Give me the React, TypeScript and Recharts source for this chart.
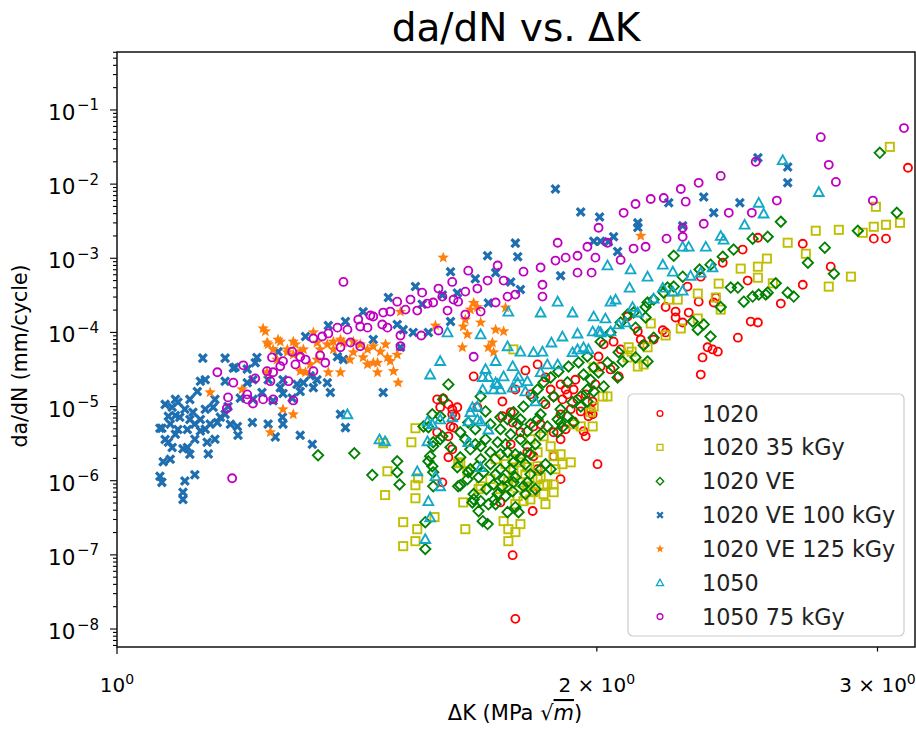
import React from "react";
import { ScatterChart, Scatter, XAxis, YAxis } from "recharts";

// [ΔK (MPa√m), da/dN (mm/cycle)]
const s1020: [number, number][] = [
  [1.588, 1.25e-5], [1.595, 9.8e-6], [1.602, 1.29e-5], [1.614, 1.07e-5], [1.623, 9.2e-6], [1.635, 9.8e-6],
  [1.631, 7.4e-6], [1.623, 7.85e-6], [1.626, 5.2e-6], [1.619, 5.4e-6], [1.588, 4.5e-6], [1.614, 3.97e-6],
  [1.623, 2.65e-6], [1.614, 2.07e-6], [1.6, 9.5e-7], [1.674, 2.55e-5], [1.683, 9.8e-6], [1.745, 1.17e-5],
  [1.778, 1.7e-5], [1.804, 3.07e-5], [1.836, 3.7e-5], [1.857, 2.47e-5], [1.745, 7.4e-6], [1.766, 8.4e-6],
  [1.771, 6.1e-6], [1.791, 4.5e-6], [1.825, 5.4e-6], [1.898, 1.99e-5], [1.912, 1.7e-5], [1.917, 1.46e-5],
  [1.934, 1.7e-5], [1.879, 1.37e-5], [1.903, 1.25e-5], [1.945, 1.25e-5], [1.926, 9.2e-6], [1.954, 8.6e-6],
  [1.898, 7.85e-6], [1.976, 7.4e-6], [1.982, 9.2e-6], [1.934, 6.3e-6], [1.962, 4.64e-6], [1.968, 3.97e-6],
  [1.879, 4.5e-6], [1.898, 3.62e-6], [1.879, 2.14e-6], [1.809, 2.42e-6], [1.825, 2.14e-6], [1.836, 1.43e-6],
  [1.823, 7.0e-7], [1.823, 3.9e-7], [1.74, 5.1e-7], [1.898, 1.05e-6], [1.771, 9.9e-8], [1.778, 1.37e-8],
  [2.005, 4.74e-5], [2.011, 3.47e-5], [2.049, 7.5e-5], [2.07, 5.9e-5], [2.04, 3.17e-5], [2.064, 2.55e-5],
  [1.988, 1.17e-5], [1.988, 7.85e-6], [2.002, 1.67e-6], [2.02, 6.9e-5], [2.091, 1.64e-4], [2.122, 1.03e-4],
  [2.131, 8.0e-5], [2.14, 6.9e-5], [2.171, 8.0e-5], [2.2, 1.07e-4], [2.209, 2.2e-4], [2.209, 1.0e-4],
  [2.241, 1.91e-4], [2.241, 1.59e-4], [2.264, 1.36e-4], [2.28, 4.15e-4], [2.284, 1.85e-4], [2.317, 2.6e-4],
  [2.324, 2.7e-5], [2.33, 4.6e-5], [2.347, 6.3e-5], [2.364, 5.9e-5], [2.382, 5.5e-5], [2.324, 5.65e-4],
  [2.368, 2.53e-4], [2.375, 2.95e-4], [2.399, 8.7e-4], [2.452, 8.5e-5], [2.469, 1.31e-3], [2.487, 5.0e-4],
  [2.498, 1.4e-4], [2.524, 1.36e-4], [2.524, 1.89e-3], [2.609, 2.45e-4], [2.693, 1.57e-3], [2.693, 4.4e-4],
  [2.804, 7.7e-4], [2.984, 1.84e-3], [3.037, 1.84e-3], [3.135, 1.66e-2],
  [1.817, 1.46e-5], [1.857, 1.07e-5], [1.871, 1.7e-5], [1.939, 2.3e-5], [1.968, 1.46e-5], [1.996, 1.99e-5],
  [1.844, 5.76e-6], [1.912, 4.94e-6], [1.766, 3.1e-6],
];

const s1020_35kGy: [number, number][] = [
  [1.469, 3.2e-6], [1.478, 1.34e-6], [1.473, 6.4e-7], [1.512, 2.76e-7], [1.512, 1.31e-7], [1.53, 3.3e-6],
  [1.539, 5.1e-6], [1.539, 8.7e-7], [1.539, 5.8e-7], [1.539, 1.53e-7], [1.543, 2.22e-7], [1.545, 1.08e-6],
  [1.582, 3.23e-7], [1.637, 1.72e-6], [1.642, 1.77e-6], [1.649, 5.1e-7], [1.654, 2.22e-7], [1.659, 1.34e-6],
  [1.686, 7.7e-7], [1.691, 8.4e-7], [1.715, 1.05e-6], [1.748, 2.85e-7], [1.758, 8.4e-7], [1.76, 9.8e-7],
  [1.76, 2.22e-7], [1.76, 1.53e-7], [1.773, 1.95e-6], [1.773, 1.43e-6], [1.773, 1.15e-6], [1.778, 2.03e-7],
  [1.784, 6.2e-7], [1.791, 1.77e-6], [1.791, 9.5e-7], [1.791, 2.6e-7], [1.799, 5.3e-7], [1.809, 1.52e-6],
  [1.809, 8.2e-7], [1.817, 3.62e-6], [1.817, 8.4e-7], [1.825, 7.0e-7], [1.836, 2.42e-6], [1.836, 1.57e-6],
  [1.836, 1.05e-6], [1.852, 3.97e-6], [1.852, 8.9e-7], [1.852, 6.6e-7], [1.862, 8.9e-7], [1.871, 2.91e-6],
  [1.879, 2.14e-6], [1.879, 8.9e-7], [1.879, 7.0e-7], [1.903, 1.67e-6], [1.926, 1.77e-6], [1.934, 5.76e-6],
  [1.954, 5.4e-6], [1.982, 8.4e-6], [1.988, 5.4e-6], [1.991, 1.0e-5], [1.991, 3.37e-5], [2.017, 1.37e-5],
  [2.031, 1.37e-5], [1.773, 5.9e-5], [2.091, 4.6e-5], [2.094, 6.3e-5], [2.103, 5.5e-5], [2.122, 3.47e-5],
  [2.14, 3.7e-5], [2.152, 6.3e-5], [2.162, 1.32e-4], [2.209, 9.1e-5], [2.219, 2.77e-4], [2.248, 2.77e-4],
  [2.258, 1.13e-4], [2.314, 3.34e-4], [2.314, 1.54e-4], [2.375, 2.95e-4], [2.385, 4.55e-4], [2.392, 2.03e-4],
  [2.462, 7.25e-4], [2.524, 7.7e-4], [2.524, 5.47e-4], [2.557, 9.9e-4], [2.579, 4.6e-4], [2.635, 1.62e-3],
  [2.705, 1.15e-3], [2.744, 2.35e-3], [2.796, 4.15e-4], [2.837, 2.42e-3], [2.887, 5.65e-4], [2.937, 2.21e-3],
  [2.984, 2.66e-3], [2.993, 4.95e-3], [3.037, 2.83e-3], [3.099, 3.01e-3], [3.054, 3.18e-2],
  [1.728, 1.95e-6], [1.753, 1.67e-6], [1.804, 1.22e-6], [1.844, 1.11e-6], [1.884, 1.43e-6], [1.817, 5.6e-7],
  [1.857, 4.83e-7], [1.74, 7.7e-7], [1.898, 2.27e-6], [1.778, 4.83e-7],
];

const s1020VE: [number, number][] = [
  [1.337, 2.2e-6], [1.409, 2.34e-6], [1.446, 1.19e-6], [1.499, 1.83e-6], [1.499, 1.3e-6], [1.504, 8.9e-7],
  [1.561, 2.76e-7], [1.561, 1.2e-7], [1.557, 5.4e-6], [1.568, 5.25e-6], [1.568, 1.83e-6], [1.572, 2.14e-6],
  [1.577, 7.85e-6], [1.577, 1.57e-6], [1.579, 3.3e-6], [1.579, 2.91e-6], [1.579, 1.3e-6], [1.579, 8.4e-7],
  [1.595, 7.4e-6], [1.595, 3.62e-6], [1.6, 3.97e-6], [1.602, 1.25e-5], [1.614, 1.99e-5], [1.619, 2.83e-6],
  [1.635, 1.52e-6], [1.637, 8.4e-7], [1.642, 4.5e-6], [1.642, 2.07e-6], [1.642, 8.7e-7], [1.659, 1.05e-6],
  [1.661, 6.1e-6], [1.661, 1.3e-6], [1.671, 5.1e-7], [1.674, 6.6e-7], [1.674, 5.6e-7], [1.683, 1.57e-6],
  [1.691, 1.37e-5], [1.691, 2.91e-6], [1.691, 5.3e-7], [1.696, 2.85e-7], [1.698, 1.3e-6], [1.708, 2.6e-7],
  [1.71, 4.8e-7], [1.715, 2.42e-6], [1.723, 8.9e-7], [1.733, 3.3e-6], [1.733, 6.6e-7], [1.74, 4.94e-6],
  [1.74, 1.43e-6], [1.745, 8.4e-7], [1.748, 1.05e-6], [1.758, 6.73e-6], [1.758, 2.42e-6], [1.758, 3.77e-7],
  [1.771, 7.2e-7], [1.773, 8.4e-6], [1.773, 1.77e-6], [1.773, 9.5e-7], [1.778, 4.4e-7], [1.784, 5.76e-6],
  [1.786, 3.77e-7], [1.791, 2.07e-6], [1.799, 1.0e-5], [1.799, 8.4e-7], [1.809, 4.64e-6], [1.809, 2.91e-6],
  [1.809, 9.5e-7], [1.817, 1.22e-6], [1.823, 1.33e-5], [1.836, 1.7e-5], [1.836, 6.73e-6], [1.844, 4.24e-6],
  [1.844, 1.43e-6], [1.852, 2.12e-5], [1.852, 1.14e-5], [1.862, 5.4e-6], [1.871, 2.47e-5], [1.879, 1.37e-5],
  [1.89, 6.73e-6], [1.89, 4.5e-6], [1.892, 2.98e-5], [1.898, 9.2e-6], [1.898, 6.1e-6], [1.903, 5.25e-6],
  [1.917, 2.12e-5], [1.917, 7.4e-6], [1.92, 3.47e-5], [1.931, 1.14e-5], [1.934, 6.1e-6], [1.948, 3.93e-5],
  [1.954, 1.37e-5], [1.954, 1.0e-5], [1.962, 2.71e-5], [1.973, 4.74e-5], [1.973, 1.7e-5], [1.973, 1.17e-5],
  [1.982, 2.3e-5], [1.991, 3.37e-5], [1.991, 1.6e-5], [2.005, 2.89e-5], [2.011, 7.5e-5], [2.02, 1.87e-5],
  [2.031, 3.93e-5], [2.04, 1.0e-4], [2.049, 3.37e-5], [2.061, 2.47e-5], [2.064, 5.4e-5], [2.07, 1.36e-4],
  [2.076, 4.06e-5], [2.091, 1.74e-4], [2.109, 1.85e-4], [2.115, 1.16e-4], [2.115, 4.6e-5], [2.14, 6.7e-5],
  [2.146, 2.2e-4], [2.146, 1.59e-4], [2.152, 2.53e-4], [2.152, 4.06e-5], [2.171, 2.77e-4], [2.171, 8.5e-5],
  [2.203, 3.44e-4], [2.215, 4.02e-4], [2.235, 1.08e-3], [2.235, 4.15e-4], [2.264, 5.65e-4], [2.297, 1.4e-4],
  [2.314, 1.09e-4], [2.32, 7.05e-4], [2.334, 1.28e-4], [2.357, 8.2e-4], [2.357, 8.8e-5], [2.392, 2.2e-4],
  [2.399, 1.05e-3], [2.427, 4.02e-4], [2.437, 1.31e-3], [2.452, 4.02e-4], [2.473, 2.6e-4], [2.505, 1.84e-3],
  [2.505, 3.04e-4], [2.527, 3.24e-4], [2.553, 3.24e-4], [2.56, 1.95e-3], [2.56, 3.44e-4], [2.59, 4.6e-4],
  [2.609, 3.11e-3], [2.635, 3.44e-4], [2.658, 3.04e-4], [2.713, 8.7e-4], [2.78, 1.39e-3], [2.817, 6.2e-4],
  [2.916, 2.35e-3], [3.01, 2.64e-2], [3.085, 4.11e-3],
  [1.654, 3.62e-6], [1.666, 2.65e-6], [1.678, 3.1e-6], [1.691, 1.95e-6], [1.703, 3.62e-6], [1.715, 1.67e-6],
  [1.728, 1.22e-6], [1.74, 2.27e-6], [1.753, 3.1e-6], [1.766, 1.43e-6], [1.778, 2.27e-6], [1.791, 3.62e-6],
  [1.804, 1.67e-6], [1.817, 2.27e-6], [1.83, 3.1e-6], [1.666, 1.43e-6], [1.686, 1.11e-6], [1.705, 7.7e-7],
  [1.725, 5.6e-7], [1.753, 6.2e-7], [1.778, 1.11e-6], [1.804, 6.6e-7], [1.83, 7.7e-7], [1.857, 1.67e-6],
  [1.871, 1.43e-6], [1.678, 4.94e-6], [1.715, 5.76e-6], [1.703, 8.6e-6], [1.74, 7.15e-6], [1.766, 4.22e-6],
  [1.791, 6.73e-6], [1.817, 5.76e-6], [1.844, 7.85e-6], [1.728, 4.83e-7], [1.686, 3.89e-7],
];

const s1020VE_100kGy: [number, number][] = [
  [1.064, 5.1e-6], [1.067, 5.1e-6], [1.069, 1.8e-6], [1.064, 1.15e-6], [1.067, 9.5e-7], [1.077, 7.4e-6],
  [1.077, 3.3e-6], [1.083, 9.8e-6], [1.083, 2.8e-6], [1.092, 1.14e-5], [1.095, 7.2e-6], [1.1, 2.7e-6],
  [1.1, 7.0e-7], [1.1, 5.6e-7], [1.103, 9.9e-7], [1.107, 4.9e-6], [1.107, 2.8e-6], [1.116, 8.4e-6],
  [1.119, 5.8e-6], [1.119, 1.2e-6], [1.123, 1.6e-5], [1.128, 2.2e-5], [1.128, 6.7e-6], [1.132, 4.5e-5],
  [1.136, 2.3e-5], [1.139, 3.3e-6], [1.141, 2.3e-6], [1.144, 5.8e-6], [1.149, 9.8e-6], [1.156, 6.1e-6],
  [1.161, 7.2e-6], [1.169, 4.5e-5], [1.169, 2.2e-5], [1.174, 1.0e-5], [1.183, 3.3e-5], [1.186, 3.4e-5],
  [1.19, 5.4e-6], [1.191, 4.1e-6], [1.195, 1.3e-5], [1.207, 3.2e-5], [1.207, 2.1e-5], [1.216, 6.1e-6],
  [1.217, 2.3e-5], [1.217, 1.25e-5], [1.221, 3.9e-5], [1.224, 4.6e-5], [1.233, 1.55e-5], [1.244, 2.3e-5],
  [1.244, 5.8e-6], [1.253, 1.2e-5], [1.257, 3.9e-6], [1.262, 5.5e-5], [1.266, 1.8e-5], [1.27, 7.2e-6],
  [1.271, 2.3e-5], [1.271, 1.5e-5], [1.271, 5.8e-6], [1.288, 1.3e-5], [1.297, 2.0e-5], [1.303, 1.6e-5],
  [1.303, 4.1e-6], [1.309, 2.1e-5], [1.313, 8.8e-5], [1.322, 2.6e-5], [1.326, 3.1e-6], [1.328, 1.8e-5],
  [1.335, 2.3e-5], [1.355, 2.1e-5], [1.357, 1.24e-4], [1.361, 1.55e-5], [1.375, 4.7e-5], [1.381, 7.9e-6],
  [1.387, 4.3e-5], [1.391, 1.4e-4], [1.391, 5.2e-6], [1.427, 1.9e-4], [1.448, 8.0e-5], [1.469, 1.55e-5],
  [1.48, 2.95e-4], [1.499, 1.28e-4], [1.506, 6.3e-5], [1.512, 1.09e-4], [1.534, 1.0e-4], [1.539, 4.15e-4],
  [1.554, 2.4e-4], [1.568, 1.0e-4], [1.6, 3.2e-4], [1.619, 6.6e-4], [1.619, 1.4e-4], [1.635, 3.4e-4],
  [1.678, 5.3e-4], [1.708, 1.08e-3], [1.71, 2.5e-4], [1.728, 6.4e-4], [1.766, 4.8e-4], [1.778, 1.6e-3],
  [1.784, 1.05e-3], [1.791, 3.8e-4], [1.884, 8.6e-3], [1.898, 5.8e-4], [1.954, 4.2e-3], [1.991, 1.7e-3],
  [2.008, 3.6e-3], [2.011, 1.7e-3], [2.034, 1.67e-3], [2.049, 1.95e-3], [2.061, 1.23e-3], [2.122, 3.0e-3],
  [2.122, 2.6e-3], [2.219, 5.6e-3], [2.264, 2.75e-3], [2.334, 6.7e-3], [2.368, 4.1e-3], [2.459, 5.6e-3],
  [2.524, 2.26e-2], [2.635, 1.7e-2], [2.635, 1.04e-2], [1.088, 7.6e-6], [1.111, 6.7e-6], [1.072, 3.6e-6],
  [1.092, 4.9e-6], [1.128, 4.7e-6], [1.08, 5.8e-6],
  [1.072, 1.07e-5], [1.088, 1.25e-5], [1.103, 9.2e-6], [1.111, 1.25e-5], [1.136, 9.2e-6], [1.152, 1.25e-5],
  [1.169, 7.85e-6], [1.178, 5.76e-6], [1.088, 4.22e-6], [1.119, 3.62e-6], [1.136, 4.94e-6], [1.152, 3.62e-6],
  [1.111, 2.27e-6], [1.08, 1.95e-6],
];

const s1020VE_125kGy: [number, number][] = [
  [1.235, 1.13e-4], [1.239, 1.03e-4], [1.242, 7.3e-5], [1.244, 6.9e-5], [1.253, 5.9e-5], [1.26, 4.3e-5],
  [1.262, 8.0e-5], [1.266, 7.5e-5], [1.279, 5.9e-5], [1.279, 5.4e-5], [1.29, 7.5e-5], [1.29, 5.0e-5],
  [1.303, 5.5e-5], [1.303, 3.0e-5], [1.309, 5.9e-5], [1.313, 2.9e-5], [1.328, 1.0e-4], [1.335, 7.3e-5],
  [1.335, 4.3e-5], [1.355, 6.9e-5], [1.357, 2.9e-5], [1.367, 7.5e-5], [1.367, 5.9e-5], [1.381, 8.0e-5],
  [1.381, 2.9e-5], [1.387, 7.3e-5], [1.407, 7.5e-5], [1.407, 5.4e-5], [1.421, 6.9e-5], [1.427, 4.6e-5],
  [1.436, 5.9e-5], [1.436, 3.7e-5], [1.448, 6.5e-5], [1.448, 3.9e-5], [1.457, 3.9e-5], [1.457, 2.9e-5],
  [1.463, 5.5e-5], [1.478, 4.6e-5], [1.484, 4.1e-5], [1.491, 3.0e-5], [1.499, 5.0e-5], [1.501, 2.1e-5],
  [1.506, 1.9e-4], [1.584, 1.24e-4], [1.602, 1.02e-3], [1.647, 6.3e-5], [1.649, 1.2e-4], [1.654, 1.49e-4],
  [1.659, 9.4e-5], [1.666, 2.03e-4], [1.674, 2.5e-4], [1.683, 2.2e-4], [1.691, 1.36e-4], [1.71, 6.3e-5],
  [1.72, 7.3e-5], [1.723, 5.4e-5], [1.728, 1.09e-4], [1.748, 1.03e-4], [1.753, 2.16e-4], [1.198, 1.7e-5],
  [1.144, 1.55e-5], [1.271, 9.2e-6], [1.29, 7.85e-6], [1.248, 4.5e-6], [1.242, 2.9e-5], [2.131, 2.0e-3],
  [1.341, 5.9e-5], [1.4, 4.3e-5], [1.322, 3.7e-5], [1.474, 6.9e-5], [1.294, 6.9e-5],
];

const s1050: [number, number][] = [
  [1.395, 7.85e-6], [1.461, 3.6e-6], [1.473, 3.4e-6], [1.543, 1.34e-6], [1.561, 1.63e-7], [1.568, 5.3e-7],
  [1.572, 3.2e-7], [1.566, 3.4e-6], [1.577, 5.8e-6], [1.566, 6.3e-6], [1.572, 2.7e-5], [1.595, 4.1e-5],
  [1.595, 6.7e-6], [1.595, 8.4e-7], [1.612, 1.0e-4], [1.623, 7.15e-6], [1.661, 6.3e-6], [1.661, 3.3e-6],
  [1.666, 8.4e-6], [1.671, 9.8e-6], [1.683, 1.0e-5], [1.683, 6.7e-6], [1.691, 9.4e-5], [1.691, 6.3e-6],
  [1.691, 1.52e-6], [1.696, 2.5e-5], [1.696, 1.7e-5], [1.703, 3.2e-5], [1.71, 2.5e-5], [1.71, 4.9e-6],
  [1.723, 1.7e-5], [1.728, 4.1e-5], [1.728, 2.1e-5], [1.733, 2.0e-5], [1.74, 1.7e-5], [1.748, 2.55e-5],
  [1.758, 6.5e-5], [1.76, 1.9e-4], [1.771, 3.5e-5], [1.771, 1.8e-5], [1.784, 2.1e-5], [1.786, 2.55e-5],
  [1.791, 5.5e-5], [1.804, 1.6e-5], [1.809, 2.2e-5], [1.825, 5.4e-5], [1.83, 1.17e-5], [1.844, 1.85e-4],
  [1.844, 2.9e-5], [1.849, 5.5e-5], [1.862, 3.7e-5], [1.873, 7.3e-5], [1.89, 2.6e-4], [1.89, 3.7e-5],
  [1.903, 8.8e-5], [1.931, 1.85e-4], [1.931, 5.4e-5], [1.945, 9.65e-5], [1.945, 5.9e-5], [1.962, 6.3e-5],
  [1.976, 5.9e-5], [1.988, 1.03e-4], [1.991, 1.64e-4], [2.005, 1.03e-4], [2.011, 1.0e-4], [2.025, 1.54e-4],
  [2.031, 8.0e-4], [2.04, 2.6e-4], [2.04, 1.03e-4], [2.055, 2.77e-4], [2.064, 1.28e-4], [2.085, 1.36e-4],
  [2.097, 4.0e-4], [2.1, 7.05e-4], [2.106, 2.2e-4], [2.122, 1.85e-4], [2.152, 5.65e-4], [2.171, 2.86e-4],
  [2.2, 8.2e-4], [2.2, 4.0e-4], [2.232, 6.6e-4], [2.232, 3.55e-4], [2.264, 1.43e-3], [2.264, 3.66e-4],
  [2.284, 1.43e-3], [2.29, 5.8e-4], [2.324, 6.4e-4], [2.341, 1.43e-3], [2.364, 7.5e-4], [2.392, 2.0e-3],
  [2.402, 1.78e-3], [2.476, 2.83e-3], [2.527, 5.6e-3], [2.545, 4.0e-3], [2.616, 2.1e-2], [2.756, 7.8e-3],
  [1.584, 1.15e-6],
];

const s1050_75kGy: [number, number][] = [
  [1.181, 1.08e-6], [1.156, 2.9e-5], [1.172, 9.5e-6], [1.174, 1.33e-5], [1.183, 2.1e-5], [1.2, 3.6e-5],
  [1.207, 1.46e-5], [1.207, 1.25e-5], [1.217, 1.1e-5], [1.221, 2.4e-5], [1.235, 1.25e-5], [1.242, 3.0e-5],
  [1.248, 2.2e-5], [1.251, 4.6e-5], [1.253, 2.9e-5], [1.253, 1.25e-5], [1.266, 3.5e-5], [1.271, 4.1e-5],
  [1.281, 2.2e-5], [1.288, 5.5e-5], [1.29, 1.21e-5], [1.294, 3.7e-5], [1.303, 4.7e-5], [1.313, 4.3e-5],
  [1.328, 8.3e-5], [1.328, 3.0e-5], [1.341, 4.9e-5], [1.345, 8.8e-5], [1.351, 3.9e-5], [1.357, 9.7e-5],
  [1.375, 1.16e-4], [1.381, 6.3e-5], [1.387, 4.8e-4], [1.395, 1.09e-4], [1.401, 7.3e-5], [1.417, 1.49e-4],
  [1.421, 1.2e-4], [1.421, 6.5e-5], [1.436, 1.16e-4], [1.442, 1.69e-4], [1.448, 1.64e-4], [1.467, 1.28e-4],
  [1.469, 1.85e-4], [1.478, 1.16e-4], [1.484, 1.91e-4], [1.499, 2.6e-4], [1.506, 9.1e-5], [1.506, 6.5e-5],
  [1.517, 2.03e-4], [1.528, 2.77e-4], [1.543, 1.97e-4], [1.552, 9.1e-5], [1.554, 3.44e-4], [1.566, 2.45e-4],
  [1.579, 2.53e-4], [1.591, 3.9e-4], [1.591, 1.06e-4], [1.6, 3.04e-4], [1.612, 1.97e-4], [1.623, 4.8e-4],
  [1.626, 2.77e-4], [1.637, 2.6e-4], [1.654, 3.55e-4], [1.654, 1.74e-4], [1.661, 6.8e-4], [1.674, 4.7e-5],
  [1.683, 3.9e-4], [1.691, 1.91e-4], [1.708, 5.0e-4], [1.728, 2.53e-4], [1.733, 8.0e-4], [1.748, 5.0e-4],
  [1.758, 3.04e-4], [1.778, 3.24e-4], [1.799, 6.6e-4], [1.844, 7.5e-4], [1.849, 4.4e-4], [1.849, 3.04e-4],
  [1.884, 9.3e-4], [1.89, 1.62e-3], [1.912, 1.02e-3], [1.945, 1.08e-3], [1.945, 6.4e-4], [1.973, 1.43e-3],
  [1.985, 6.4e-4], [1.996, 1.02e-3], [2.005, 2.58e-3], [2.031, 1.62e-3], [2.07, 9.5e-4], [2.079, 4.1e-3],
  [2.109, 1.35e-3], [2.115, 5.4e-3], [2.146, 1.43e-3], [2.162, 6.3e-3], [2.203, 6.5e-3], [2.212, 1.84e-3],
  [2.258, 8.6e-3], [2.264, 1.95e-3], [2.264, 2.58e-3], [2.274, 5.8e-3], [2.317, 1.04e-2], [2.334, 2.92e-3],
  [2.392, 1.29e-2], [2.42, 4.1e-3], [2.502, 4.1e-3], [2.516, 2.0e-2], [2.594, 6.0e-3], [2.764, 4.3e-2],
  [2.796, 1.82e-2], [2.825, 1.07e-2], [2.98, 6.0e-3], [3.117, 5.7e-2],
];

const seriesNames = ["1020", "1020 35 kGy", "1020 VE", "1020 VE 100 kGy", "1020 VE 125 kGy", "1050", "1050 75 kGy"];
const seriesData = [s1020, s1020_35kGy, s1020VE, s1020VE_100kGy, s1020VE_125kGy, s1050, s1050_75kGy];
const seriesColors = ["#ff0000", "#bfbf00", "#008000", "#1f6fb0", "#ff7f0e", "#12a8c8", "#bf00bf"];
type Kind = "circle" | "square" | "diamond" | "x" | "star" | "triangle";
const seriesKinds: Kind[] = ["circle", "square", "diamond", "x", "star", "triangle", "circle"];

const xDomain: [number, number] = [1, 3.167];
const yDomain: [number, number] = [5.72e-9, 0.605];
const xTickValues = [1, 2, 3];
const xTickLabels: [string, string][] = [["10", "0"], ["2 × 10", "0"], ["3 × 10", "0"]];
const yMajorExps = [-8, -7, -6, -5, -4, -3, -2, -1];
const yMinorMults = [2, 3, 4, 5, 6, 7, 8, 9];

const yTickValues: number[] = [];
[-9, ...yMajorExps].forEach((e) => {
  if (e >= -8) yTickValues.push(Math.pow(10, e));
  yMinorMults.forEach((m) => {
    const v = m * Math.pow(10, e);
    if (v >= yDomain[0] && v <= yDomain[1]) yTickValues.push(v);
  });
});

const FONT = "'DejaVu Sans', sans-serif";
const PLOT = { left: 117, top: 52, right: 915, bottom: 647 };

function Marker({ kind, cx, cy, color, k = 1 }: { kind: Kind; cx: number; cy: number; color: string; k?: number }) {
  const sw = 1.85 * k;
  if (kind === "circle") return <circle cx={cx} cy={cy} r={4 * k} fill="none" stroke={color} strokeWidth={sw} />;
  if (kind === "square") {
    const h = 4.1 * k;
    return <rect x={cx - h} y={cy - h} width={2 * h} height={2 * h} fill="none" stroke={color} strokeWidth={sw} />;
  }
  if (kind === "diamond") {
    const h = 5.2 * k;
    return <polygon points={`${cx},${cy - h} ${cx + h},${cy} ${cx},${cy + h} ${cx - h},${cy}`} fill="none" stroke={color} strokeWidth={sw} />;
  }
  if (kind === "triangle") {
    const h = 4.9 * k;
    return <polygon points={`${cx},${cy - h} ${cx + h},${cy + h * 0.8} ${cx - h},${cy + h * 0.8}`} fill="none" stroke={color} strokeWidth={sw} />;
  }
  if (kind === "x") {
    const a = 1.6 * k;
    const h = 5.5 * k;
    const pts = [[-a, -h], [a, -h], [a, -a], [h, -a], [h, a], [a, a], [a, h], [-a, h], [-a, a], [-h, a], [-h, -a], [-a, -a]]
      .map(([px, py]) => `${px},${py}`).join(" ");
    return <polygon points={pts} transform={`translate(${cx},${cy}) rotate(45)`} fill={color} />;
  }
  const R = 6 * k;
  const r = 2.6 * k;
  const pts: string[] = [];
  for (let i = 0; i < 10; i++) {
    const ang = -Math.PI / 2 + (i * Math.PI) / 5;
    const rr = i % 2 === 0 ? R : r;
    pts.push(`${cx + rr * Math.cos(ang)},${cy + rr * Math.sin(ang)}`);
  }
  return <polygon points={pts.join(" ")} fill={color} />;
}

function XTick(p: any) {
  const v = p.payload.value;
  const i = xTickValues.indexOf(v);
  const lab = xTickLabels[i] || ["", ""];
  const len = v === 1 ? 7 : 4.5;
  return (
    <g>
      <line x1={p.x} x2={p.x} y1={PLOT.bottom} y2={PLOT.bottom + len} stroke="#000" strokeWidth={1.2} />
      <text x={p.x} y={692} textAnchor="middle" fontFamily={FONT} fontSize={20} fill="#000">
        {lab[0]}
        <tspan dy={-8} fontSize={14}>{lab[1]}</tspan>
      </text>
    </g>
  );
}

function YTick(p: any) {
  const v = p.payload.value;
  const e = Math.round(Math.log10(v));
  const major = Math.abs(Math.log10(v) - e) < 1e-6;
  return (
    <g>
      <line x1={PLOT.left} x2={PLOT.left - (major ? 7 : 4)} y1={p.y} y2={p.y} stroke="#000" strokeWidth={1.1} />
      {major && yMajorExps.includes(e) ? (
        <text x={99} y={p.y + 10} textAnchor="end" fontFamily={FONT} fontSize={21.5} fill="#000">
          10
          <tspan dy={-9.5} dx={1.5} fontSize={15}>{`−${-e}`}</tspan>
        </text>
      ) : null}
    </g>
  );
}

export default function App() {
  return (
    <div style={{ position: "relative", width: 916, height: 729, background: "#fff" }}>
      <style>{"body{margin:0}"}</style>
      <ScatterChart width={916} height={729} margin={{ top: PLOT.top, right: 916 - PLOT.right, bottom: 0, left: 0 }}>
        <XAxis
          dataKey="x"
          type="number"
          scale="log"
          domain={xDomain}
          allowDataOverflow
          ticks={xTickValues}
          interval={0}
          height={729 - PLOT.bottom}
          tickLine={false}
          axisLine={false}
          tickSize={0}
          tickMargin={0}
          tick={XTick}
        />
        <YAxis
          dataKey="y"
          type="number"
          scale="log"
          domain={yDomain}
          allowDataOverflow
          ticks={yTickValues}
          interval={0}
          width={PLOT.left}
          tickLine={false}
          axisLine={false}
          tickSize={0}
          tickMargin={0}
          tick={YTick}
        />
        {seriesData.map((d, si) => (
          <Scatter
            key={seriesNames[si]}
            name={seriesNames[si]}
            data={d.map(([x, y]) => ({ x, y }))}
            isAnimationActive={false}
            shape={(sp: any) => <Marker kind={seriesKinds[si]} cx={sp.cx} cy={sp.cy} color={seriesColors[si]} />}
          />
        ))}
      </ScatterChart>
      <svg width={916} height={729} style={{ position: "absolute", left: 0, top: 0, pointerEvents: "none" }}>
        <rect x={PLOT.left} y={PLOT.top} width={PLOT.right - PLOT.left} height={PLOT.bottom - PLOT.top} fill="none" stroke="#111" strokeWidth={1.5} />
        <text x={516} y={41} textAnchor="middle" fontFamily={FONT} fontSize={39} fill="#000">da/dN vs. ΔK</text>
        <text x={515} y={720} textAnchor="middle" fontFamily={FONT} fontSize={21} fill="#000">
          ΔK (MPa <tspan>√</tspan><tspan fontStyle="italic" textDecoration="overline">m</tspan>)
        </text>
        <text transform="translate(27,356) rotate(-90)" textAnchor="middle" fontFamily={FONT} fontSize={20.5} fill="#000">
          da/dN (mm/cycle)
        </text>
        <rect x={628} y={394} width={276} height={242} rx={5} fill="#fff" fillOpacity={0.8} stroke="#cccccc" strokeWidth={1.2} />
        {seriesNames.map((n, i) => {
          const cy = 413.5 + i * 33.85;
          return (
            <g key={n}>
              <Marker kind={seriesKinds[i]} cx={660} cy={cy} color={seriesColors[i]} k={0.72} />
              <text x={702} y={cy + 8} fontFamily={FONT} fontSize={22.3} fill="#222">{n}</text>
            </g>
          );
        })}
      </svg>
    </div>
  );
}
